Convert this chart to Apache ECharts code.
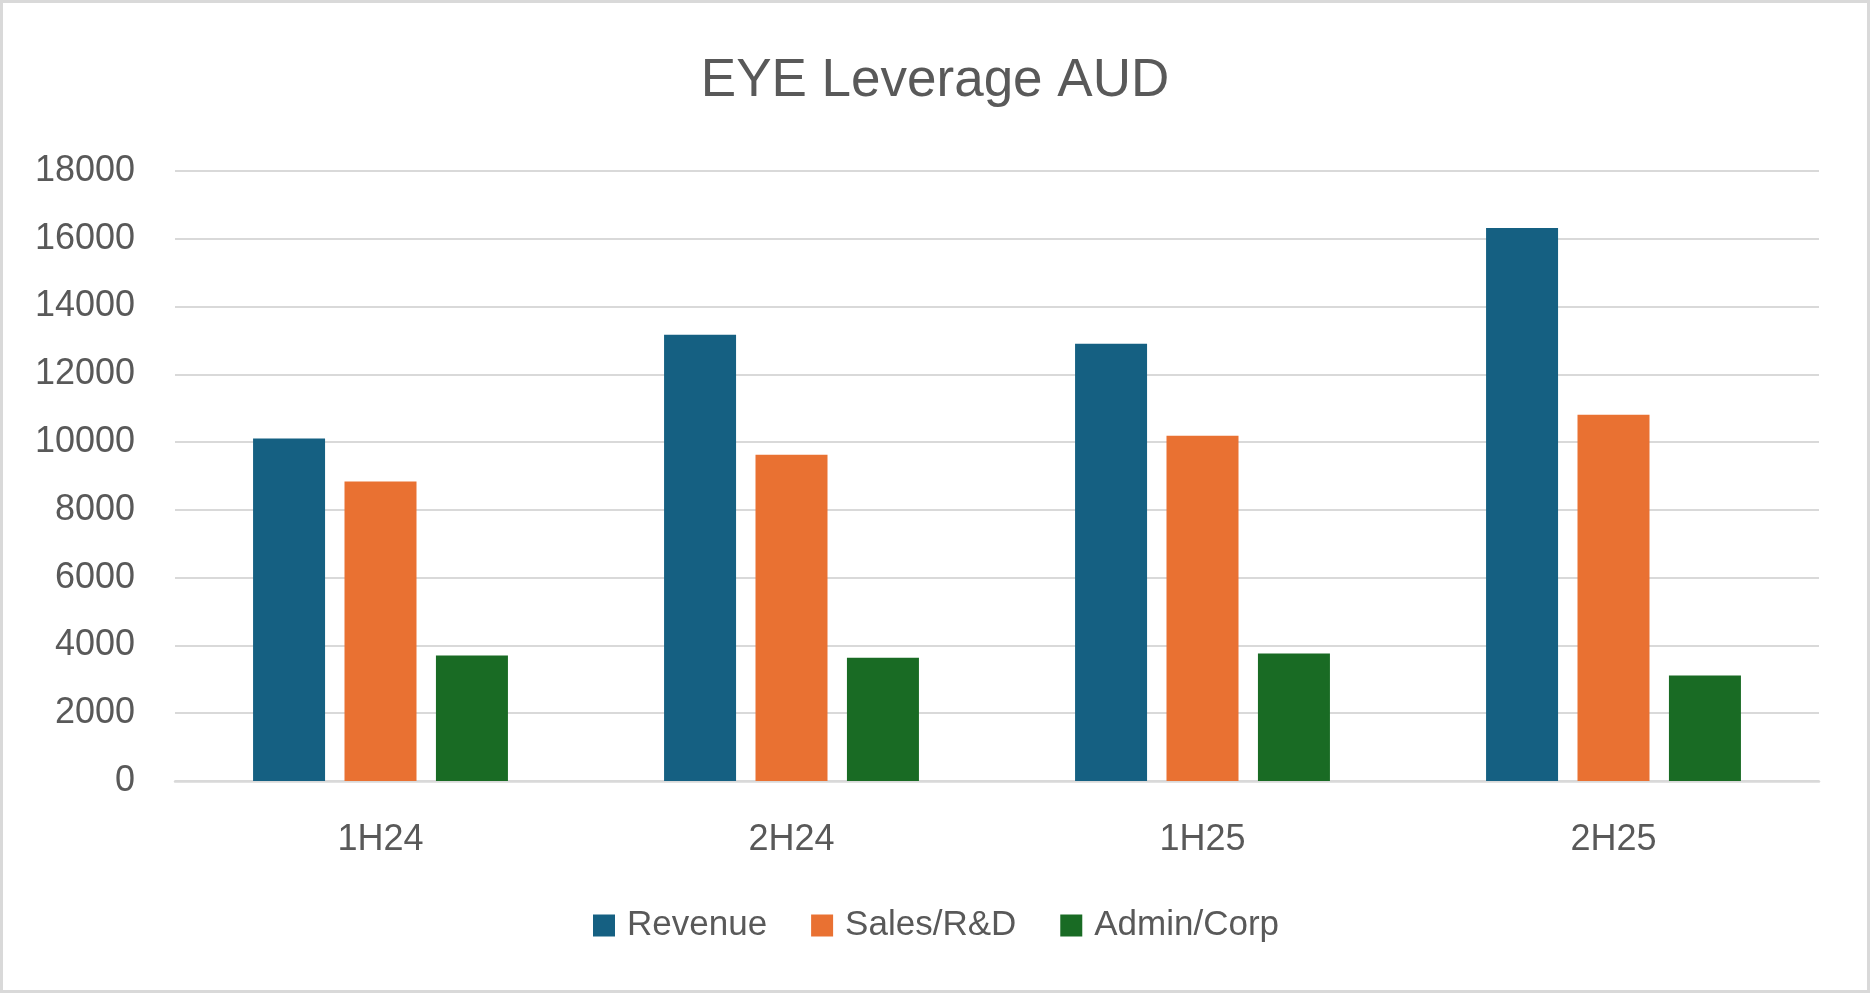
<!DOCTYPE html>
<html>
<head>
<meta charset="utf-8">
<script src="https://cdn.jsdelivr.net/npm/echarts@6/dist/echarts.min.js"></script>
<style>
html,body{margin:0;padding:0;background:#fff;}
#wrap{position:relative;width:1870px;height:993px;}
#c{position:absolute;left:0;top:0;width:1870px;height:993px;}
#frame{position:absolute;left:0;top:0;width:1870px;height:993px;box-sizing:border-box;border:3px solid #d9d9d9;pointer-events:none;}
</style>
</head>
<body>
<div id="wrap"><div id="c"></div><div id="frame"></div></div>
<script>
const categories = ['1H24', '2H24', '1H25', '2H25'];
const revenue = [10110, 13170, 12900, 16320];
const salesRD = [8840, 9630, 10190, 10810];
const adminCorp = [3700, 3640, 3760, 3110];
const yTicks = [0, 2000, 4000, 6000, 8000, 10000, 12000, 14000, 16000, 18000];

const chart = echarts.init(document.getElementById('c'));
const font = '"Liberation Sans", Arial, sans-serif';
const txt = '#595959';
chart.setOption({
  animation: false,
  textStyle: { fontFamily: font },
  title: {
    text: 'EYE Leverage AUD',
    left: 'center',
    top: 50,
    textStyle: { fontSize: 53, fontWeight: 'normal', color: txt, fontFamily: font }
  },
  legend: {
    left: 588,
    top: 903,
    itemWidth: 22,
    itemHeight: 22,
    itemGap: 44,
    icon: 'rect',
    textStyle: { fontSize: 35, color: txt, fontFamily: font, padding: [0, 0, 0, 7] },
    data: ['Revenue', 'Sales/R&D', 'Admin/Corp']
  },
  grid: { left: 175, right: 51, top: 171, bottom: 212, containLabel: false },
  xAxis: {
    type: 'category',
    data: categories,
    axisLine: { lineStyle: { color: '#d9d9d9', width: 2.5 } },
    axisTick: { show: false },
    axisLabel: { fontSize: 36, color: txt, margin: 41, fontFamily: font }
  },
  yAxis: {
    type: 'value',
    min: yTicks[0],
    max: yTicks[yTicks.length - 1],
    interval: 2000,
    axisLine: { show: false },
    axisTick: { show: false },
    splitLine: { lineStyle: { color: '#d9d9d9', width: 2 } },
    axisLabel: { fontSize: 36, color: txt, margin: 40, fontFamily: font, formatter: v => String(v) }
  },
  series: [
    { name: 'Revenue', type: 'bar', data: revenue, barWidth: 72, barGap: '27%', itemStyle: { color: '#156082' } },
    { name: 'Sales/R&D', type: 'bar', data: salesRD, barWidth: 72, barGap: '27%', itemStyle: { color: '#E97132' } },
    { name: 'Admin/Corp', type: 'bar', data: adminCorp, barWidth: 72, barGap: '27%', itemStyle: { color: '#196B24' } }
  ]
});
</script>
</body>
</html>
